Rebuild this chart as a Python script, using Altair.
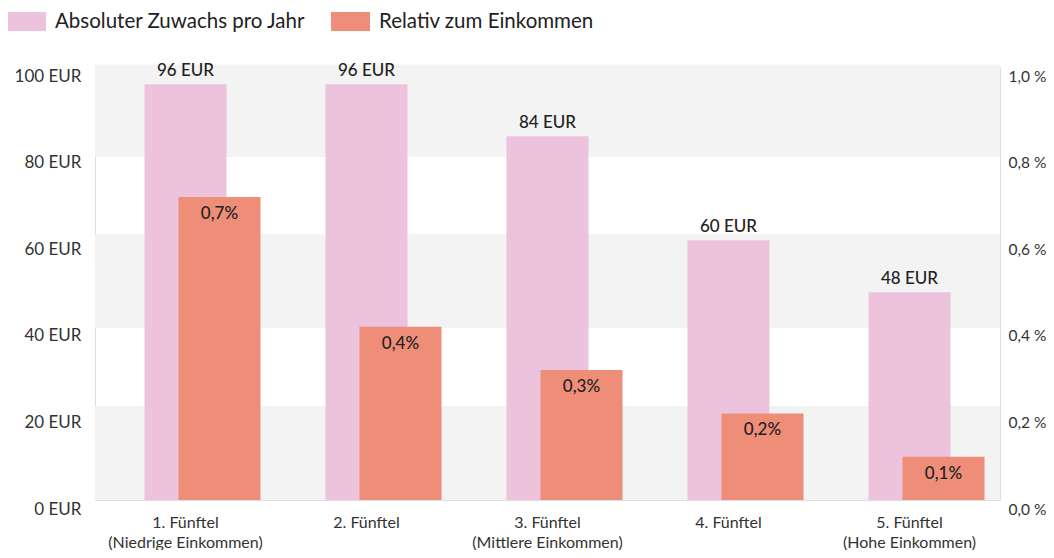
import altair as alt
import pandas as pd

categories = [
    "1. Fünftel\n(Niedrige Einkommen)",
    "2. Fünftel",
    "3. Fünftel\n(Mittlere Einkommen)",
    "4. Fünftel",
    "5. Fünftel\n(Hohe Einkommen)",
]
absolute_eur = [96, 96, 84, 60, 48]
relative_pct = [0.7, 0.4, 0.3, 0.2, 0.1]
series_names = ["Absoluter Zuwachs pro Jahr", "Relativ zum Einkommen"]
band_lo = [0, 39.7, 79.2]
band_hi = [21.7, 61.4, 100.6]

PINK = "#ecc2dc"
ORANGE = "#ee8e79"
GREY = "#f3f3f3"
FONT = "Lato"

df_abs = pd.DataFrame({"cat": categories, "val": absolute_eur, "series": series_names[0]})
df_rel = pd.DataFrame({"cat": categories, "val": relative_pct, "series": series_names[1]})
df_band = pd.DataFrame({"lo": band_lo, "hi": band_hi})

x_enc = alt.X(
    "cat:N",
    sort=categories,
    scale=alt.Scale(paddingInner=0, paddingOuter=0),
    axis=alt.Axis(
        title=None,
        labelExpr="split(datum.label, '\\n')",
        labelAngle=0,
        labelFontSize=16,
        labelFont=FONT,
        labelColor="#333333",
        labelPadding=14,
        labelLineHeight=20,
        ticks=False,
        domain=False,
        labelBaseline="top",
    ),
)

color_enc = alt.Color(
    "series:N",
    scale=alt.Scale(domain=series_names, range=[PINK, ORANGE]),
    legend=alt.Legend(
        title=None,
        orient="none",
        legendX=-88,
        legendY=-65,
        direction="horizontal",
        symbolType="M-1,-0.49H1V0.49H-1Z",
        symbolSize=1521,
        symbolStrokeWidth=0,
        symbolOpacity=1,
        labelFontSize=20.5,
        labelFont=FONT,
        labelColor="#222222",
        labelOffset=9,
        labelLimit=400,
        columnPadding=25,
    ),
)

y_left_scale = alt.Scale(domain=[0, 100], nice=False)

bands = alt.Chart(df_band).mark_rect(color=GREY).encode(
    x=alt.value(0),
    x2=alt.value("width"),
    y=alt.Y("lo:Q", scale=y_left_scale),
    y2="hi:Q",
)

pink_bars = alt.Chart(df_abs).mark_bar(width=82).encode(
    x=x_enc,
    y=alt.Y(
        "val:Q",
        scale=y_left_scale,
        axis=alt.Axis(
            title=None,
            orient="left",
            values=[0, 20, 40, 60, 80, 100],
            labelExpr="datum.value + ' EUR'",
            labelFontSize=17,
            labelFont=FONT,
            labelColor="#333333",
            labelOffset=9,
            labelPadding=14,
            ticks=False,
            domain=False,
            grid=False,
        ),
    ),
    color=color_enc,
)

pink_text = alt.Chart(df_abs).mark_text(
    baseline="bottom", dy=-4, fontSize=17, font=FONT, fontWeight=500, color="#222222"
).encode(
    x=alt.X("cat:N", sort=categories),
    y=alt.Y("val:Q", scale=y_left_scale),
    text=alt.Text("label:N"),
).transform_calculate(label="datum.val + ' EUR'")

left = alt.layer(bands, pink_bars, pink_text)

y_right_scale = alt.Scale(domain=[0, 1], nice=False)

orange_bars = alt.Chart(df_rel).mark_bar(width=82, xOffset=34).encode(
    x=alt.X("cat:N", sort=categories),
    y=alt.Y(
        "val:Q",
        scale=y_right_scale,
        axis=alt.Axis(
            title=None,
            orient="right",
            values=[0, 0.2, 0.4, 0.6, 0.8, 1.0],
            labelExpr="replace(format(datum.value, '.1f'), '.', ',') + ' %'",
            labelFontSize=15.5,
            labelFont=FONT,
            labelColor="#333333",
            labelOffset=9,
            labelPadding=8,
            ticks=False,
            domain=False,
            grid=False,
        ),
    ),
    color=color_enc,
)

orange_text = alt.Chart(df_rel).mark_text(
    baseline="top", dx=34, dy=9, fontSize=17, font=FONT, fontWeight=500, color="#222222"
).encode(
    x=alt.X("cat:N", sort=categories),
    y=alt.Y("val:Q", scale=y_right_scale),
    text=alt.Text("label:N"),
).transform_calculate(label="replace(format(datum.val, '.1f'), '.', ',') + '%'")

right = alt.layer(orange_bars, orange_text)

chart = (
    alt.layer(left, right)
    .resolve_scale(y="independent")
    .properties(
        width=905,
        height=433,
        autosize=alt.AutoSizeParams(type="none"),
        padding={"left": 87, "top": 59, "right": 46, "bottom": 50},
    )
    .configure_view(stroke=None)
    .configure(font=FONT)
)

chart.save("out.html", embed_options={"renderer": "svg", "actions": False})
